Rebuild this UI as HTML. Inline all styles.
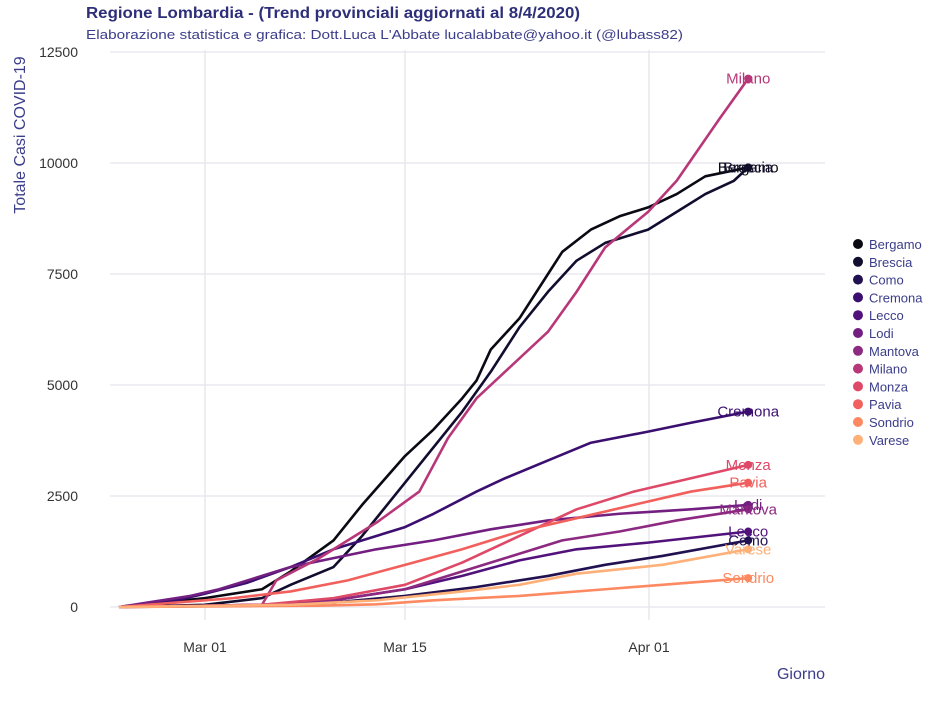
<!DOCTYPE html><html><head><meta charset="utf-8"><style>
body{margin:0;background:#fff;font-family:"Liberation Sans",sans-serif}
</style></head><body>
<svg id="s" width="952" height="702" xmlns="http://www.w3.org/2000/svg" font-family="Liberation Sans, sans-serif">
<text x="86" y="18" font-size="16" font-weight="bold" fill="#2e2f7a" textLength="494" lengthAdjust="spacingAndGlyphs">Regione Lombardia  - (Trend provinciali aggiornati al 8/4/2020)</text>
<text x="86" y="39" font-size="13" fill="#3b3d8a" textLength="597" lengthAdjust="spacingAndGlyphs">Elaborazione statistica e grafica: Dott.Luca L'Abbate  lucalabbate@yahoo.it  (@lubass82)</text>
<g stroke="#e4e4ec" stroke-width="1.3">
<line x1="110" x2="825" y1="52" y2="52"/><line x1="110" x2="825" y1="163" y2="163"/><line x1="110" x2="825" y1="274" y2="274"/><line x1="110" x2="825" y1="385" y2="385"/><line x1="110" x2="825" y1="496" y2="496"/><line x1="110" x2="825" y1="607" y2="607"/>
<line x1="205" x2="205" y1="50" y2="620"/><line x1="405" x2="405" y1="50" y2="620"/><line x1="649" x2="649" y1="50" y2="620"/>
</g>
<g font-size="14" fill="#333" text-anchor="end">
<text x="78" y="57">12500</text><text x="78" y="168">10000</text><text x="78" y="279">7500</text><text x="78" y="390">5000</text><text x="78" y="501">2500</text><text x="78" y="612">0</text></g>
<g font-size="14" fill="#333" text-anchor="middle"><text x="205" y="652">Mar 01</text><text x="405" y="652">Mar 15</text><text x="649" y="652">Apr 01</text></g>
<text x="825" y="679" font-size="16" fill="#3b3d8a" text-anchor="end">Giorno</text>
<text transform="translate(25,135) rotate(-90)" font-size="16" fill="#3b3d8a" text-anchor="middle">Totale Casi COVID-19</text>
<g id="lines" fill="none" stroke-width="2.6" stroke-linejoin="round"></g>
<g id="lab" font-size="15"></g>
<g id="leg" font-size="13" fill="#3b3d8a"></g>
</svg>
<script>
const X=d=>119+d*14.3, Y=v=>607-v*111/2500;
const S=[
["Bergamo","#0a0a14",[[0,0],[6,200],[10,400],[12,800],[15,1500],[17,2300],[20,3400],[22,4000],[24,4700],[25,5100],[26,5800],[28,6500],[30,7500],[31,8000],[33,8500],[35,8800],[37,9000],[39,9300],[41,9700],[44,9900]]],
["Brescia","#110d2e",[[0,0],[6,50],[10,200],[12,500],[15,900],[17,1600],[20,2800],[22,3600],[24,4400],[26,5300],[28,6300],[30,7100],[32,7800],[34,8200],[37,8500],[39,8900],[41,9300],[43,9600],[44,9900]]],
["Como","#221150",[[0,0],[10,30],[15,100],[20,250],[25,450],[30,700],[34,950],[38,1150],[44,1500]]],
["Cremona","#3b0f70",[[0,0],[4,150],[6,300],[9,550],[12,900],[15,1300],[20,1800],[22,2100],[25,2600],[27,2900],[30,3300],[33,3700],[37,3950],[40,4150],[44,4400]]],
["Lecco","#51127c",[[0,0],[10,50],[15,150],[20,400],[24,700],[28,1050],[32,1300],[37,1450],[44,1700]]],
["Lodi","#721f81",[[0,0],[2,100],[5,250],[7,400],[9,600],[12,900],[15,1100],[18,1300],[22,1500],[26,1750],[30,1950],[35,2100],[40,2200],[44,2300]]],
["Mantova","#8c2981",[[0,0],[10,50],[15,150],[20,400],[23,700],[27,1100],[31,1500],[35,1700],[39,1950],[44,2200]]],
["Milano","#b73779",[[0,0],[10,50],[11,600],[14,1100],[18,1900],[21,2600],[23,3800],[25,4700],[27,5300],[30,6200],[32,7100],[34,8100],[37,8900],[39,9600],[42,11000],[44,11900]]],
["Monza","#de4968",[[0,0],[10,50],[15,200],[20,500],[24,1000],[28,1600],[32,2200],[36,2600],[40,2900],[44,3200]]],
["Pavia","#f1605d",[[0,0],[4,100],[8,200],[12,350],[16,600],[20,950],[24,1300],[28,1700],[32,2000],[36,2300],[40,2600],[44,2800]]],
["Sondrio","#fc8961",[[0,0],[14,30],[18,60],[22,150],[28,250],[34,400],[40,550],[44,650]]],
["Varese","#feb078",[[0,0],[12,50],[18,150],[24,350],[28,500],[32,750],[38,950],[44,1300]]]];
const L=document.getElementById('lines'),B=document.getElementById('lab'),G=document.getElementById('leg');
const ns="http://www.w3.org/2000/svg";
function el(p,t,a,txt){const e=document.createElementNS(ns,t);for(const k in a)e.setAttribute(k,a[k]);if(txt)e.textContent=txt;p.appendChild(e);return e;}
S.forEach((s,i)=>{
 el(L,"polyline",{points:s[2].map(p=>X(p[0])+","+Y(p[1])).join(" "),stroke:s[1]});
 const last=s[2][s[2].length-1];
 el(L,"circle",{cx:X(last[0]),cy:Y(last[1]),r:4,fill:s[1],stroke:"none"});
 el(B,"text",{x:X(last[0]),y:Y(last[1])+5,fill:s[1],"text-anchor":"middle"},s[0]);
 const y=244+i*17.8;
 el(G,"circle",{cx:858,cy:y,r:5,fill:s[1]});
 el(G,"text",{x:869,y:y+5},s[0]);
});
</script>
</body></html>
